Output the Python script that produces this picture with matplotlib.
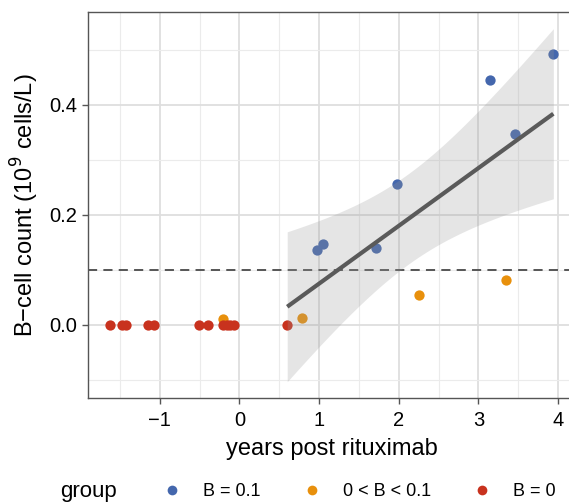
import numpy as np
import matplotlib
matplotlib.use('Agg')
import matplotlib.pyplot as plt
from matplotlib.lines import Line2D

plt.rcParams['font.family'] = ['Liberation Sans', 'DejaVu Sans']

# data
groups = ["B = 0.1", "0 < B < 0.1", "B = 0"]
colors = ["#4467AD", "#E8900C", "#C8321E"]

x_high = [0.98, 1.05, 1.71, 1.98, 3.15, 3.46, 3.94]
y_high = [0.136, 0.147, 0.140, 0.256, 0.445, 0.347, 0.493]

x_mid = [-0.21, 0.78, 2.26, 3.35]
y_mid = [0.011, 0.013, 0.055, 0.082]

x_zero = [-1.62, -1.47, -1.42, -1.15, -1.07, -0.51, -0.39,
          -0.20, -0.16, -0.12, -0.07, 0.60]
y_zero = [0.0] * len(x_zero)

threshold = 0.1
fit_from = 0.5   # regression only over post-rituximab points after this


def lm_fit(x, y, xs):
    # ordinary least squares with 95% confidence band (like geom_smooth lm)
    x = np.asarray(x); y = np.asarray(y)
    n = len(x)
    b, a = np.polyfit(x, y, 1)
    resid = y - (a + b * x)
    s = np.sqrt(np.sum(resid ** 2) / (n - 2))
    sxx = np.sum((x - x.mean()) ** 2)
    se = s * np.sqrt(1.0 / n + (xs - x.mean()) ** 2 / sxx)
    t = {9: 2.262, 10: 2.228, 8: 2.306}.get(n - 2, 2.26)
    yh = a + b * xs
    return yh, yh - t * se, yh + t * se


fig = plt.figure(figsize=(5.69, 5.03), dpi=100)
ax = fig.add_axes([0.1547, 0.2087, 0.857, 0.7674])

ax.set_xlim(-1.90, 4.22)
ax.set_ylim(-0.133, 0.569)

ax.set_xticks([-1, 0, 1, 2, 3, 4])
ax.set_xticks([-1.5, -0.5, 0.5, 1.5, 2.5, 3.5], minor=True)
ax.set_yticks([0.0, 0.2, 0.4])
ax.set_yticks([-0.1, 0.1, 0.3, 0.5], minor=True)
ax.set_yticklabels(["0.0", "0.2", "0.4"])
ax.set_xticklabels(["\u22121", "0", "1", "2", "3", "4"])

ax.grid(which='major', color='#DEDEDE', linewidth=1.3, zorder=0)
ax.grid(which='minor', color='#EBEBEB', linewidth=0.8, zorder=0)
ax.set_axisbelow(True)

for sp in ax.spines.values():
    sp.set_color('#555555')
    sp.set_linewidth(1.0)

ax.tick_params(axis='x', which='major', pad=5)
ax.tick_params(which='major', length=4, width=1.0, color='#555555',
               labelsize=14.5, labelcolor='black')
ax.tick_params(which='minor', length=0)

ax.axhline(threshold, color='#555555', linestyle=(0, (4.7, 3.2)), linewidth=1.4, zorder=1)

ax.scatter(x_high, y_high, s=55, color=colors[0], zorder=2, linewidths=0)
ax.scatter(x_mid, y_mid, s=55, color=colors[1], zorder=2, linewidths=0)
ax.scatter(x_zero, y_zero, s=55, color=colors[2], zorder=2, linewidths=0)

xa = np.array(x_high + x_mid + x_zero)
ya = np.array(y_high + y_mid + y_zero)
keep = xa > fit_from
xs = np.linspace(xa[keep].min(), xa[keep].max(), 80)
yh, lo, hi = lm_fit(xa[keep], ya[keep], xs)
ax.fill_between(xs, lo, hi, color='#999999', alpha=0.25, linewidth=0, zorder=3)
ax.plot(xs, yh, color='#5A5A5A', linewidth=3, zorder=4, solid_capstyle='butt')

ax.set_xlabel("years post rituximab", fontsize=17, labelpad=6)
ax.set_ylabel("B\u2212cell count (10$^{9}$ cells/L)", fontsize=17, labelpad=6)

fig.text(60 / 569, 1 - 497 / 503, "group", fontsize=16, va='baseline', ha='left')
handles = [Line2D([], [], marker='o', linestyle='', markersize=7,
                  markerfacecolor=c, markeredgewidth=0) for c in colors]
fig.legend(handles, groups, ncol=3, loc='center left',
           bbox_to_anchor=(156 / 569, 1 - 492 / 503), frameon=False,
           fontsize=13, handletextpad=1.2, columnspacing=2.35,
           borderaxespad=0, handlelength=1.0)

fig.savefig("out.png", dpi=100)
